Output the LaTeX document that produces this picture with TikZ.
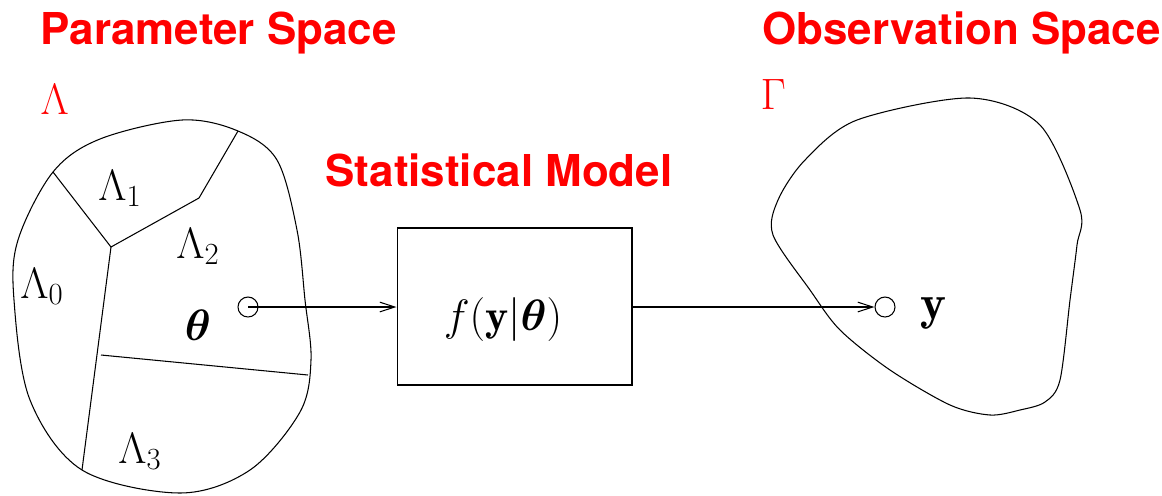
\RequirePackage{fix-cm}
\documentclass[tikz,border=0pt]{standalone}
\usepackage{amsmath}
\usepackage{bm}
\usepackage{fontspec}
\usepackage{tikz}
\usetikzlibrary{arrows.meta, positioning}
\newfontfamily\headfont{TeX Gyre Heros}
\definecolor{spacered}{RGB}{255, 0, 0}

\begin{document}
\begin{tikzpicture}[
    x=0.02cm, y=-0.02cm,
    line width=0.6pt,
    heading/.style={anchor=base west, inner sep=0pt, text=spacered, font=\fontsize{25}{30}\selectfont\headfont\bfseries},
    spacename/.style={anchor=base west, inner sep=0pt, text=spacered, font=\fontsize{25}{30}\selectfont},
    region/.style={anchor=base, inner sep=0pt, font=\fontsize{25}{30}\selectfont},
    point/.style={circle, draw, inner sep=0pt, minimum size=0.4cm},
    flow/.style={-{Straight Barb[length=8.5pt, width=5.5pt]}}
  ]
  \useasboundingbox (0,0) rectangle (1162,495);

  % Headings
  \node[heading] (parhead) at (40,44) {Parameter Space};
  \node[heading] (modhead) at (325,186) {Statistical Model};
  \node[heading] (obshead) at (762,44) {Observation Space};
  \node[spacename] (lambda) at (40,114) {$\Lambda$};
  \node[spacename] (gamma) at (760,109) {$\Gamma$};

  % Parameter space and its regions
  \draw plot[smooth cycle, tension=0.55] coordinates {
    (53,172) (100,139) (182,120) (238,131) (277,160) (297,230) (305,300)
    (311,360) (300,412) (250,470) (180,493) (82,470) (30,400) (14,300) (18,240)};
  \coordinate (joint) at (111,247);
  \draw (53,172) -- (joint) -- (199,198) -- (238,131);
  \draw (joint) -- (82,470);
  \draw (101,355) -- (308,375);

  \node[region] (lam0) at (42,298) {$\Lambda_0$};
  \node[region] (lam1) at (120,200) {$\Lambda_1$};
  \node[region] (lam2) at (198,258) {$\Lambda_2$};
  \node[region] (lam3) at (140,463) {$\Lambda_3$};
  \node[region] (thlab) at (198,340) {$\bm{\theta}$};

  % Observation space
  \draw plot[smooth cycle, tension=0.5] coordinates {
    (773,235) (778,200) (805,160) (857,120) (970,98) (1040,125) (1080,210)
    (1077,245) (1070,300) (1060,380) (1045,402) (1020,410) (990,415)
    (950,405) (890,370) (840,330) (810,290)};
  \node[region, font=\fontsize{28}{32}\selectfont] (ylab) at (933,319) {$\mathbf{y}$};

  % Model
  \node[draw, minimum width=4.7cm, minimum height=3.14cm] (model) at (514.5,306.5) {};
  \node[region] (density) at (503,330) {$f(\mathbf{y}|\bm{\theta})$};

  \node[point] (thpt) at (248,307) {};
  \node[point] (ypt) at (885,307) {};
  \draw[flow] (thpt.center) -- (model.west |- thpt);
  \draw[flow] (model.east |- ypt) -- (ypt.west);

\end{tikzpicture}
\end{document}
